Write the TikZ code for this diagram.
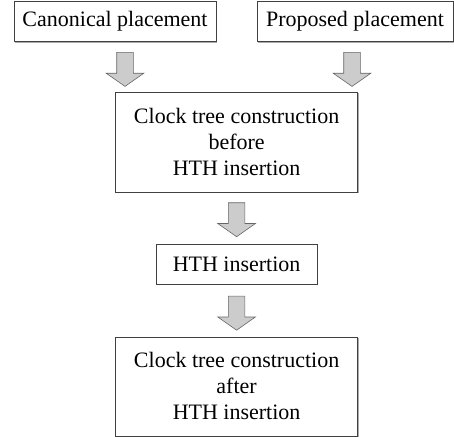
\documentclass[tikz,border=0pt]{standalone}
\usepackage{fontspec}
\setmainfont{Liberation Serif}
\usetikzlibrary{positioning,shapes.arrows,shadows}

\tikzset{
  box/.style={draw=black!75, line width=0.8pt, fill=white, align=center,
    font=\rmfamily\fontsize{22}{26}\selectfont,
    drop shadow={shadow xshift=1.2pt, shadow yshift=-1.2pt, fill=black!55, opacity=0.6}},
  flowarrow/.style={single arrow, shape border rotate=270, draw=black!60, fill=black!20,
    line width=0.6pt, minimum height=34pt, inner sep=8pt,
    single arrow head extend=10.5pt, single arrow tip angle=110}
}

\begin{document}
\begin{tikzpicture}[x=1pt, y=1pt, node distance=8pt]
	\useasboundingbox (0,0) rectangle (454,-436);
	\node[box, minimum width=202pt, minimum height=40pt] (canon) at (115,-21.7) {Canonical placement};
	\node[box, minimum width=196pt, minimum height=40pt] (prop) at (355,-21.7) {Proposed placement};
	\node[box, minimum width=242pt, minimum height=100pt] (before) at (236.6,-142) {Clock tree construction\\before\\HTH insertion};
	\node[flowarrow] (a1) at (125,-66.5) {};
	\node[flowarrow] (a2) at (352,-66.5) {};
	\node[flowarrow, below=10pt of before] (a3) {};
	\node[box, minimum width=161pt, minimum height=40pt, below=6.5pt of a3] (hth) {HTH insertion};
	\node[flowarrow, below=11.5pt of hth] (a4) {};
	\node[box, minimum width=242pt, minimum height=99pt, below=6pt of a4] (after) {Clock tree construction\\after\\HTH insertion};
\end{tikzpicture}
\end{document}
